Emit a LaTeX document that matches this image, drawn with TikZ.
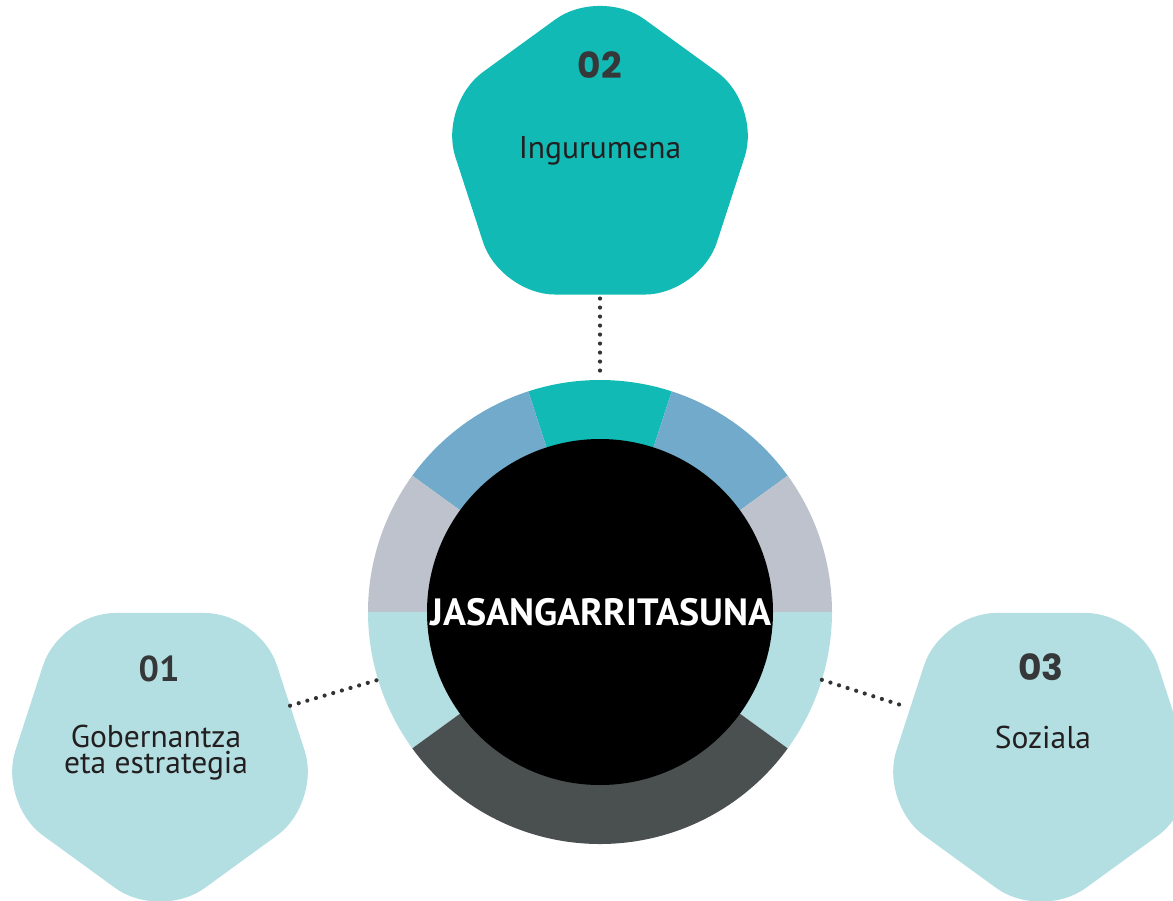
\documentclass[tikz,border=0pt]{standalone}
\usepackage{fontspec}
\setmainfont{PT Sans}
\newfontfamily\numfont{Poppins}
\usetikzlibrary{shapes.geometric}
\definecolor{cTeal}{HTML}{12BAB5}
\definecolor{cBlue}{HTML}{71AACA}
\definecolor{cGray}{HTML}{BDC2CD}
\definecolor{cLight}{HTML}{B3DFE2}
\definecolor{cDark}{HTML}{4A4F50}
\definecolor{cNum}{HTML}{353738}
\definecolor{cTxt}{HTML}{231F20}
\definecolor{cDot}{HTML}{333333}
\begin{document}
\begin{tikzpicture}[x=1pt,y=1pt,
  pent/.style={regular polygon, regular polygon sides=5, minimum size=340pt, inner sep=0pt, outer sep=0pt, rounded corners=55pt},
  numtxt/.style={font=\numfont\bfseries\fontsize{36}{36}\selectfont, text=cNum, anchor=base, inner sep=0pt},
  numtxtb/.style={font=\bfseries\fontsize{36}{36}\selectfont, text=cNum, anchor=base, inner sep=0pt},
  lbltxt/.style={font=\fontsize{31.5}{26}\selectfont, text=cTxt, anchor=base, inner sep=0pt, align=center},
  dots/.style={draw=cDot, line width=4.2pt, line cap=round, dash pattern=on 0pt off 9pt}]
\useasboundingbox (0,0) rectangle (1173,-900);
\clip (0,0) rectangle (1173,-900);
% ring
\node[circle, minimum size=464pt, inner sep=0pt, outer sep=0pt] (ring) at (600,-612) {};
\fill[cTeal] (ring.center) -- ++(72:232) arc[start angle=72, end angle=108, radius=232] -- cycle;
\fill[cBlue] (ring.center) -- ++(36:232) arc[start angle=36, end angle=72, radius=232] -- cycle;
\fill[cBlue] (ring.center) -- ++(108:232) arc[start angle=108, end angle=144, radius=232] -- cycle;
\fill[cGray] (ring.center) -- ++(0:232) arc[start angle=0, end angle=36, radius=232] -- cycle;
\fill[cGray] (ring.center) -- ++(144:232) arc[start angle=144, end angle=180, radius=232] -- cycle;
\fill[cLight] (ring.center) -- ++(180:232) arc[start angle=180, end angle=216, radius=232] -- cycle;
\fill[cLight] (ring.center) -- ++(-36:232) arc[start angle=-36, end angle=0, radius=232] -- cycle;
\fill[cDark] (ring.center) -- ++(216:232) arc[start angle=216, end angle=324, radius=232] -- cycle;
\node[circle, fill=black, minimum size=346pt, inner sep=0pt] (core) at (600,-612) {};
\node[font=\bfseries\fontsize{38}{38}\selectfont, text=white, anchor=base, inner sep=0pt] (ctr) at (601,-625) {JASANGARRITASUNA};
% pentagons
\node[pent, fill=cTeal] (p2) at (600,-157) {};
\node[pent, fill=cLight, shape border rotate=180] (p1) at (160,-750.5) {};
\node[pent, fill=cLight, shape border rotate=180] (p3) at (1041,-750.5) {};
% labels
\node[numtxt] (n2) at (600,-78) {02};
\node[lbltxt] (l2) at (600,-158) {Ingurumena};
\node[numtxtb] (n1) at (159,-681) {01};
\node[lbltxt] (l1) at (156,-773) {Gobernantza\\eta estrategia};
\node[numtxt] (n3) at (1041,-680) {03};
\node[lbltxt] (l3) at (1043,-748) {Soziala};
% connectors
\draw[dots, shorten <=4pt, shorten >=9pt] (p2.south) -- (ring.north);
\draw[dots] (p1.19.5) -- (ring.197);
\draw[dots, shorten >=11pt] (ring.-17) -- (p3.162);
\end{tikzpicture}
\end{document}
